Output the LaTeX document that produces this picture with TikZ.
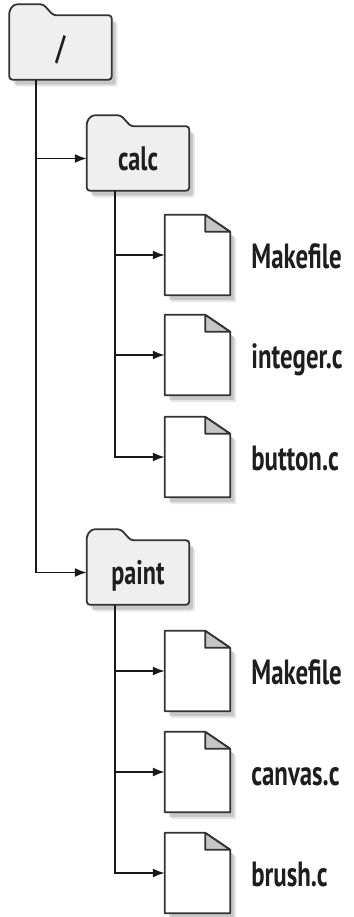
\documentclass[tikz,border=0pt]{standalone}
\usepackage{fontspec}
\newfontfamily\treefont[FakeStretch=0.71]{PT Sans}
\usepackage{tikz}
\usetikzlibrary{positioning,arrows.meta,shadows}
\definecolor{FolderFill}{HTML}{EFEFEF}
\definecolor{EarFill}{HTML}{C6C6C6}
\definecolor{Edge}{HTML}{333333}
\definecolor{Ink}{HTML}{1E1E1E}
\pgfdeclarelayer{background}
\pgfsetlayers{background,main}

\begin{document}
\begin{tikzpicture}[x=1pt, y=1pt,
  folder/.style={minimum width=102pt, minimum height=64pt, inner sep=0pt, text height=24pt, text depth=0pt, text=Ink, font=\treefont\bfseries\fontsize{34}{38}\selectfont},
  docfile/.style={minimum width=65pt, minimum height=80pt, inner sep=0pt},
  lbl/.style={right=21pt of #1, inner sep=0pt, text height=27pt, text depth=0pt, text=Ink, font=\treefont\bfseries\fontsize{35}{38}\selectfont},
  outline/.style={draw=Edge, line width=1.8pt, line join=round,
    drop shadow={shadow xshift=6pt, shadow yshift=-7pt, opacity=0.09, fill=black},
    drop shadow={shadow xshift=4pt, shadow yshift=-5pt, opacity=0.14, fill=black}},
  link/.style={draw=black!90, line width=1.7pt, -{Latex[length=12pt,width=9pt]}}]
\useasboundingbox (0,0) rectangle (353,-917);%
% folders
\node[folder] (root) at (60.5,-47.5) {/};%
\node[folder] (calc) at (138,-158.5) {calc};%
\node[folder] (paint) at (138,-572.5) {paint};%
% files
\node[docfile] (calcmake) at (197.5,-255) {};%
\node[docfile] (integer) at (197.5,-355) {};%
\node[docfile] (button) at (197.5,-457) {};%
\node[docfile] (paintmake) at (197.5,-671) {};%
\node[docfile] (canvas) at (197.5,-772) {};%
\node[docfile] (brush) at (197.5,-873) {};%
\node[lbl=calcmake] {Makefile};%
\node[lbl=integer] {integer.c};%
\node[lbl=button] {button.c};%
\node[lbl=paintmake] {Makefile};%
\node[lbl=canvas] {canvas.c};%
\node[lbl=brush] {brush.c};%
% shapes behind the labels
\begin{pgfonlayer}{background}
\foreach \f in {root,calc,paint}
  \draw[outline, fill=FolderFill, rounded corners=3pt] (\f.south west) -- ([yshift=5pt]\f.north west) -- ([xshift=5pt,yshift=11pt]\f.north west) -- ([xshift=34pt,yshift=11pt]\f.north west) -- ([xshift=44pt]\f.north west) -- (\f.north east) -- (\f.south east) -- cycle;%
\foreach \f in {calcmake,integer,button,paintmake,canvas,brush} {
  \draw[outline, fill=white] (\f.south west) -- (\f.north west) -- ([xshift=-25pt]\f.north east) -- ([yshift=-17pt]\f.north east) -- (\f.south east) -- cycle;%
  \draw[draw=Edge, line width=1.8pt, line join=round, fill=EarFill] ([xshift=-25pt]\f.north east) -- ([xshift=-25pt,yshift=-17pt]\f.north east) -- ([yshift=-17pt]\f.north east) -- cycle;%
}
\end{pgfonlayer}
% connectors
\coordinate (rootstem) at ([xshift=26.5pt]root.south west);%
\coordinate (calcstem) at ([xshift=28pt]calc.south west);%
\coordinate (paintstem) at ([xshift=28pt]paint.south west);%
\draw[link] (rootstem) |- (calc);%
\draw[link] (rootstem) |- (paint);%
\foreach \f in {calcmake,integer,button}
  \draw[link] (calcstem) |- (\f);%
\foreach \f in {paintmake,canvas,brush}
  \draw[link] (paintstem) |- (\f);%
\end{tikzpicture}
\end{document}
